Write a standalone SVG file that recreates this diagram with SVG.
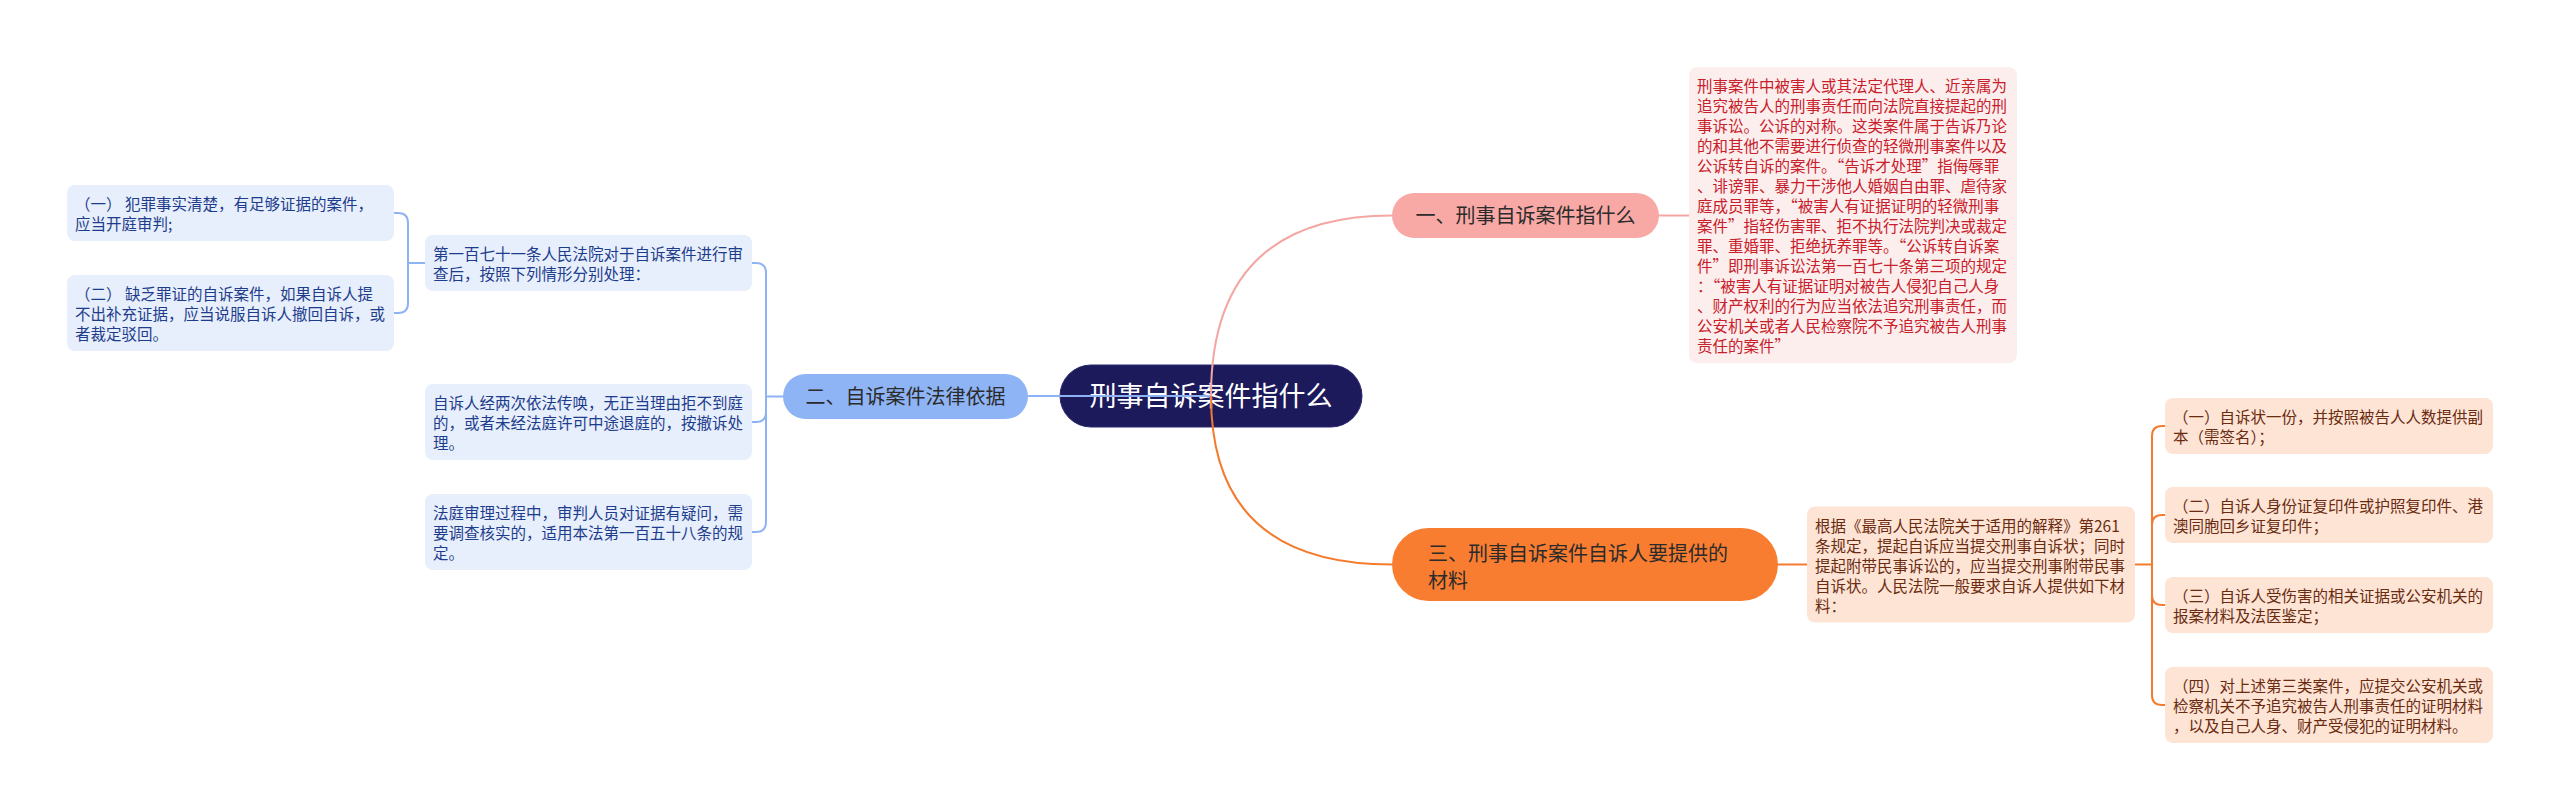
<svg xmlns="http://www.w3.org/2000/svg" width="2560" height="809" viewBox="0 0 2560 809">
<style>
text{font-family:"Noto Sans CJK SC","Noto Sans",sans-serif}
.box{font-size:15.5px}
.fw{font-feature-settings:"fwid" 1}
.lb{fill:#e7eefc}
.lbt{fill:#1d3d8c}
.pb{fill:#fdeeee}
.pbt{fill:#c8202a}
.ob{fill:#fde4d5}
.obt{fill:#6a2b10}
.nt{font-size:20px;fill:#2b2b2b}
.c{fill:none;stroke-width:2}
.cb{stroke:#8db3f5}
.cp{stroke:#f4a6a3}
.co{stroke:#f47b2e}
</style>
<rect width="2560" height="809" fill="#ffffff"/>
<g id="root">
<rect x="1060" y="365" width="302" height="62" rx="31" fill="#1c1a5b" stroke="#2a2870" stroke-width="1"/>
<text x="1211" y="406" font-size="27" fill="#ffffff" text-anchor="middle">刑事自诉案件指什么</text>
</g>
<g id="connectors">
<path class="c cb" d="M1211 396 H1028"/>
<path class="c cp" d="M1211 396 Q1211 215.5 1392 215.5"/>
<path class="c co" d="M1211 396 Q1211 564.5 1392 564.5"/>
<path class="c cp" d="M1659 215.5 H1689"/>
<path class="c co" d="M1778 564.5 H1807"/>
<path class="c cb" d="M783 396.5 H766 V273 Q766 263 756 263 H752"/>
<path class="c cb" d="M766 396.5 V412 Q766 422 756 422 H752"/>
<path class="c cb" d="M766 396.5 V522 Q766 532 756 532 H752"/>
<path class="c cb" d="M425 263 H408 V223 Q408 213 398 213 H394"/>
<path class="c cb" d="M408 263 V303 Q408 313 398 313 H394"/>
<path class="c co" d="M2135 564.5 H2152 V436 Q2152 426 2162 426 H2165"/>
<path class="c co" d="M2152 564.5 V525 Q2152 515 2162 515 H2165"/>
<path class="c co" d="M2152 564.5 V595 Q2152 605 2162 605 H2165"/>
<path class="c co" d="M2152 564.5 V695 Q2152 705 2162 705 H2165"/>
</g>
<g id="n1">
<rect x="1392" y="193" width="267" height="45" rx="22.5" fill="#f8a8a5"/>
<text class="nt" x="1525.5" y="223" text-anchor="middle">一、刑事自诉案件指什么</text>
</g>
<g id="n1-detail">
<rect class="pb" x="1689" y="67" width="328" height="296" rx="8"/>
<text class="box pbt">
<tspan x="1697" y="92">刑事案件中被害人或其法定代理人、近亲属为</tspan>
<tspan x="1697" y="112">追究被告人的刑事责任而向法院直接提起的刑</tspan>
<tspan x="1697" y="132">事诉讼。公诉的对称。这类案件属于告诉乃论</tspan>
<tspan x="1697" y="152">的和其他不需要进行侦查的轻微刑事案件以及</tspan>
<tspan x="1697" y="172">公诉转自诉的案件。<tspan class="fw">“</tspan>告诉才处理<tspan class="fw">”</tspan>指侮辱罪</tspan>
<tspan x="1697" y="192">、诽谤罪、暴力干涉他人婚姻自由罪、虐待家</tspan>
<tspan x="1697" y="212">庭成员罪等，<tspan class="fw">“</tspan>被害人有证据证明的轻微刑事</tspan>
<tspan x="1697" y="232">案件<tspan class="fw">”</tspan>指轻伤害罪、拒不执行法院判决或裁定</tspan>
<tspan x="1697" y="252">罪、重婚罪、拒绝抚养罪等。<tspan class="fw">“</tspan>公诉转自诉案</tspan>
<tspan x="1697" y="272">件<tspan class="fw">”</tspan>即刑事诉讼法第一百七十条第三项的规定</tspan>
<tspan x="1697" y="292">：<tspan class="fw">“</tspan>被害人有证据证明对被告人侵犯自己人身</tspan>
<tspan x="1697" y="312">、财产权利的行为应当依法追究刑事责任，而</tspan>
<tspan x="1697" y="332">公安机关或者人民检察院不予追究被告人刑事</tspan>
<tspan x="1697" y="352">责任的案件<tspan class="fw">”</tspan></tspan>
</text>
</g>
<g id="n2">
<rect x="783" y="374" width="245" height="45" rx="22.5" fill="#8eb4f6"/>
<text class="nt" x="905.5" y="404" text-anchor="middle">二、自诉案件法律依据</text>
</g>
<g id="n2-a">
<rect class="lb" x="425" y="235" width="327" height="56" rx="8"/>
<text class="box lbt">
<tspan x="433" y="260">第一百七十一条人民法院对于自诉案件进行审</tspan>
<tspan x="433" y="280">查后，按照下列情形分别处理：</tspan>
</text>
</g>
<g id="n2-a1">
<rect class="lb" x="67" y="185" width="327" height="56" rx="8"/>
<text class="box lbt">
<tspan x="75" y="210">（一） 犯罪事实清楚，有足够证据的案件，</tspan>
<tspan x="75" y="230">应当开庭审判;</tspan>
</text>
</g>
<g id="n2-a2">
<rect class="lb" x="67" y="275" width="327" height="76" rx="8"/>
<text class="box lbt">
<tspan x="75" y="300">（二） 缺乏罪证的自诉案件，如果自诉人提</tspan>
<tspan x="75" y="320">不出补充证据，应当说服自诉人撤回自诉，或</tspan>
<tspan x="75" y="340">者裁定驳回。</tspan>
</text>
</g>
<g id="n2-b">
<rect class="lb" x="425" y="384" width="327" height="76" rx="8"/>
<text class="box lbt">
<tspan x="433" y="409">自诉人经两次依法传唤，无正当理由拒不到庭</tspan>
<tspan x="433" y="429">的，或者未经法庭许可中途退庭的，按撤诉处</tspan>
<tspan x="433" y="449">理。</tspan>
</text>
</g>
<g id="n2-c">
<rect class="lb" x="425" y="494" width="327" height="76" rx="8"/>
<text class="box lbt">
<tspan x="433" y="519">法庭审理过程中，审判人员对证据有疑问，需</tspan>
<tspan x="433" y="539">要调查核实的，适用本法第一百五十八条的规</tspan>
<tspan x="433" y="559">定。</tspan>
</text>
</g>
<g id="n3">
<rect x="1392" y="528" width="386" height="73" rx="36.5" fill="#f97d30"/>
<text class="nt">
<tspan x="1428" y="561">三、刑事自诉案件自诉人要提供的</tspan>
<tspan x="1428" y="588">材料</tspan>
</text>
</g>
<g id="n3-detail">
<rect class="ob" x="1807" y="506.5" width="328" height="116" rx="8"/>
<text class="box obt">
<tspan x="1815" y="531.5">根据《最高人民法院关于适用的解释》第261</tspan>
<tspan x="1815" y="551.5">条规定，提起自诉应当提交刑事自诉状；同时</tspan>
<tspan x="1815" y="571.5">提起附带民事诉讼的，应当提交刑事附带民事</tspan>
<tspan x="1815" y="591.5">自诉状。人民法院一般要求自诉人提供如下材</tspan>
<tspan x="1815" y="611.5">料：</tspan>
</text>
</g>
<g id="n3-1">
<rect class="ob" x="2165" y="398" width="328" height="56" rx="8"/>
<text class="box obt">
<tspan x="2173" y="423">（一）自诉状一份，并按照被告人人数提供副</tspan>
<tspan x="2173" y="443">本（需签名）；</tspan>
</text>
</g>
<g id="n3-2">
<rect class="ob" x="2165" y="487" width="328" height="56" rx="8"/>
<text class="box obt">
<tspan x="2173" y="512">（二）自诉人身份证复印件或护照复印件、港</tspan>
<tspan x="2173" y="532">澳同胞回乡证复印件；</tspan>
</text>
</g>
<g id="n3-3">
<rect class="ob" x="2165" y="577" width="328" height="56" rx="8"/>
<text class="box obt">
<tspan x="2173" y="602">（三）自诉人受伤害的相关证据或公安机关的</tspan>
<tspan x="2173" y="622">报案材料及法医鉴定；</tspan>
</text>
</g>
<g id="n3-4">
<rect class="ob" x="2165" y="667" width="328" height="76" rx="8"/>
<text class="box obt">
<tspan x="2173" y="692">（四）对上述第三类案件，应提交公安机关或</tspan>
<tspan x="2173" y="712">检察机关不予追究被告人刑事责任的证明材料</tspan>
<tspan x="2173" y="732">，以及自己人身、财产受侵犯的证明材料。</tspan>
</text>
</g>
</svg>
